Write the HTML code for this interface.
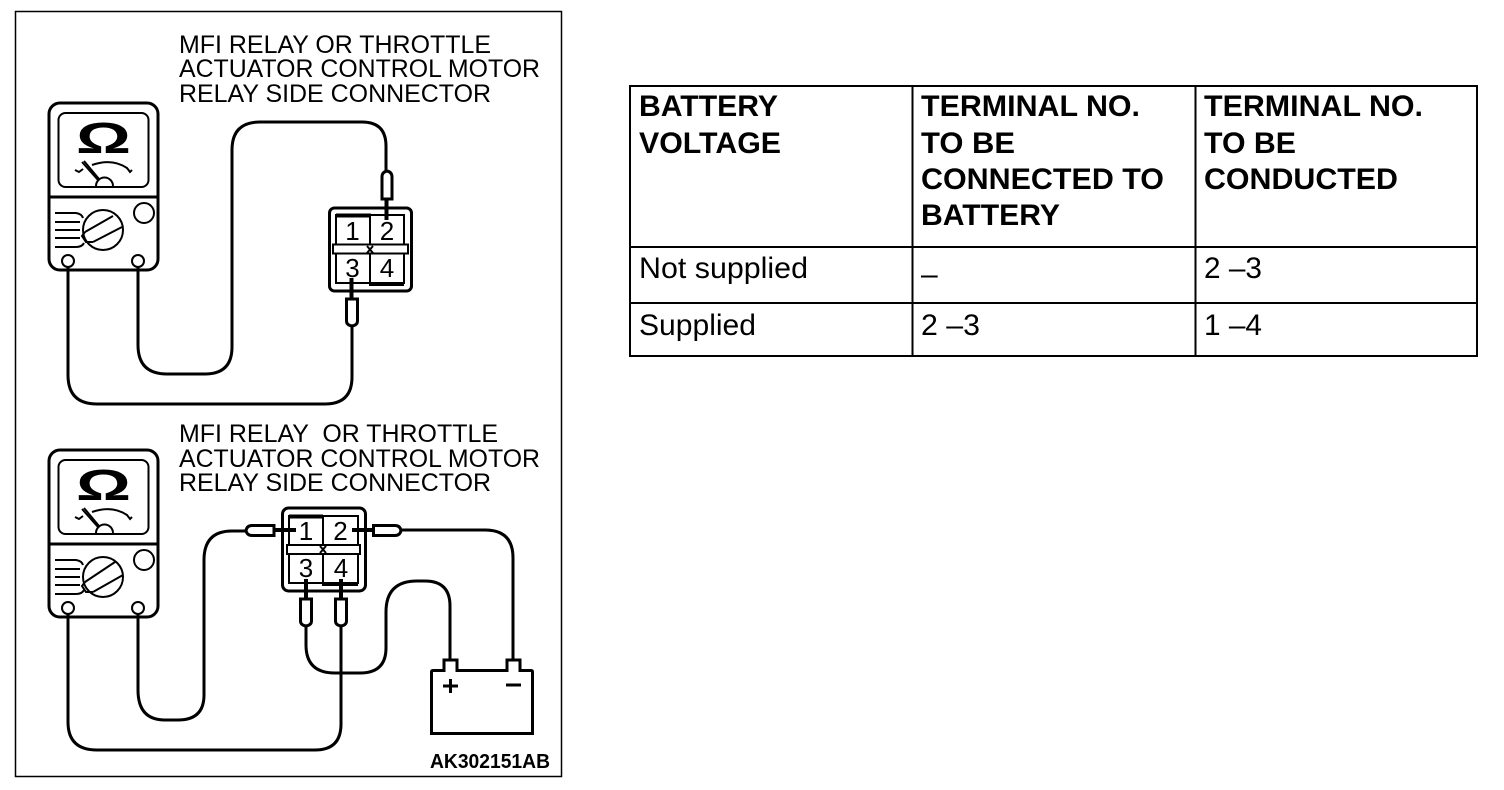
<!DOCTYPE html>
<html><head><meta charset="utf-8">
<style>html,body{margin:0;padding:0;background:#fff}svg{display:block}
text{font-family:"Liberation Sans",sans-serif;fill:#000;white-space:pre}
.l{font-size:25px}.h{font-size:30px;font-weight:bold}.c{font-size:30px}.n{font-size:26px}
.o{font-size:44px;font-weight:bold}
.w{fill:none;stroke:#000;stroke-width:3}.t{fill:none;stroke:#000;stroke-width:2}.k{fill:none;stroke:#000;stroke-width:5}
.p{fill:#fff;stroke:#000;stroke-width:3}
</style></head><body>
<svg width="1504" height="790" viewBox="0 0 1504 790" xmlns="http://www.w3.org/2000/svg">
<rect x="15.5" y="11.5" width="546" height="765" fill="none" stroke="#000" stroke-width="1.5"/>

<text class="l" x="179" y="53" textLength="312" lengthAdjust="spacingAndGlyphs">MFI RELAY OR THROTTLE</text>
<text class="l" x="179" y="77" textLength="361" lengthAdjust="spacingAndGlyphs">ACTUATOR CONTROL MOTOR</text>
<text class="l" x="179" y="102" textLength="312" lengthAdjust="spacingAndGlyphs">RELAY SIDE CONNECTOR</text>
<text class="l" x="179" y="442" textLength="319" lengthAdjust="spacingAndGlyphs">MFI RELAY  OR THROTTLE</text>
<text class="l" x="179" y="467" textLength="361" lengthAdjust="spacingAndGlyphs">ACTUATOR CONTROL MOTOR</text>
<text class="l" x="179" y="491" textLength="312" lengthAdjust="spacingAndGlyphs">RELAY SIDE CONNECTOR</text>

<!-- meter 1 -->
<g>
<rect x="49" y="103" width="109" height="167" rx="11" class="w"/>
<rect x="58.500" y="113" width="90" height="74" rx="7" class="t"/>
<path d="M49 197H158" class="w"/>
<text class="o" x="76" y="153" textLength="55" lengthAdjust="spacingAndGlyphs">Ω</text>
<path d="M75 170l4 2 4-3M92 165Q112 158 127 168l3 4 2-2M82 162L98 180" class="t"/>
<path d="M84 161L99 179" class="t"/>
<path d="M96 186a8.500 8.500 0 0 1 17 0" class="t"/>
<circle cx="103" cy="230" r="20" class="t"/><circle cx="144" cy="213" r="10" class="t"/>
<path d="M85 232L113 216M93 242L122 227M85 232l-3 4 4 6 7 0" class="t"/>
<path d="M55 213H76Q82 214 83 218M55 222H80M55 230H80M55 238H80M55 247H76Q82 247 84 243" class="t"/>
<circle cx="68" cy="261" r="6" class="t"/><circle cx="138" cy="261" r="6" class="t"/>
</g>
<!-- meter 2 -->
<g transform="translate(0,347)">
<rect x="49" y="103" width="109" height="167" rx="11" class="w"/>
<rect x="58.500" y="113" width="90" height="74" rx="7" class="t"/>
<path d="M49 197H158" class="w"/>
<text class="o" x="76" y="153" textLength="55" lengthAdjust="spacingAndGlyphs">Ω</text>
<path d="M75 170l4 2 4-3M92 165Q112 158 127 168l3 4 2-2M82 162L98 180" class="t"/>
<path d="M84 161L99 179" class="t"/>
<path d="M96 186a8.500 8.500 0 0 1 17 0" class="t"/>
<circle cx="103" cy="230" r="20" class="t"/><circle cx="144" cy="213" r="10" class="t"/>
<path d="M85 235L115 215M93 245L123 228M85 235l-3 4 4 6 7 0" class="t"/>
<path d="M55 213H76Q82 214 83 218M55 222H80M55 230H80M55 238H80M55 247H76Q82 247 84 243" class="t"/>
<circle cx="68" cy="261" r="6" class="t"/><circle cx="138" cy="261" r="6" class="t"/>
</g>

<!-- wires 1 -->
<path class="w" d="M138 267V345Q138 374 167 374H205Q232 374 232 347V150Q232 122 260 122H362Q386 122 386 146V172"/>
<path class="w" d="M68 267V375Q68 404 97 404H325Q352 404 352 377V326"/>
<!-- connector 1 -->
<rect x="329.500" y="208" width="82" height="83" rx="5" class="w"/>
<rect x="336" y="215" width="68" height="68" class="t"/>
<path d="M336 215.500H371" stroke="#000" stroke-width="4"/>
<path d="M370 215V285H404" class="t"/>
<rect x="333" y="244.500" width="75" height="9" fill="#fff" stroke="#000" stroke-width="2"/>
<path d="M367 246l6 7M373 246l-6 7" class="t"/>
<text class="n" x="352.500" y="240" text-anchor="middle">1</text><text class="n" x="387" y="240" text-anchor="middle">2</text>
<text class="n" x="352.500" y="277" text-anchor="middle">3</text><text class="n" x="387" y="277" text-anchor="middle">4</text>
<path d="M386.500 200V220M351.500 278V298" stroke="#000" stroke-width="4"/>
<path class="p" d="M382 177Q382 172 387 171Q392 172 392 177V199H382Z"/>
<path class="p" d="M346.500 299H357.500V321Q357.500 325 352 326Q346.500 325 346.500 321Z"/>

<!-- wires 2 -->
<path class="w" d="M138 614V690Q138 720 165 720H178Q204 720 204 695V560Q204 531 232 531H247"/>
<path class="w" d="M400 530H485Q513 530 513 558V660"/>
<path class="w" d="M68 614V722Q68 750 97 750H315Q341 750 341 724V626"/>
<path class="w" d="M306 626V645Q306 673 335 673H360Q386 673 386 648V612Q386 581 417 581H425Q450 581 450 606V660"/>
<!-- connector 2 -->
<rect x="282.500" y="508" width="83" height="83" rx="6" class="w"/>
<rect x="289" y="516" width="69" height="67" class="t"/>
<path d="M289 516.500H323" stroke="#000" stroke-width="4"/>
<path d="M323 516V585H358" class="t"/>
<rect x="287" y="545" width="73" height="9" fill="#fff" stroke="#000" stroke-width="2"/>
<path d="M320 546l6 7M326 546l-6 7" class="t"/>
<text class="n" x="306" y="540" text-anchor="middle">1</text><text class="n" x="340.500" y="540" text-anchor="middle">2</text>
<text class="n" x="306" y="577" text-anchor="middle">3</text><text class="n" x="341" y="577" text-anchor="middle">4</text>
<path d="M275 530H296M352 530H373M306 579V599M341 579V599" stroke="#000" stroke-width="4"/>
<path class="p" d="M252 525.500H274V535.500H252Q247 535.500 246 530.500Q247 525.500 252 525.500Z"/>
<path class="p" d="M373.500 525.500H395Q400 525.500 401 530.500Q400 535.500 395 535.500H373.500Z"/>
<path class="p" d="M300.500 599H311.500V621Q311.500 625 306 626Q300.500 625 300.500 621Z"/>
<path class="p" d="M335.500 599H346.500V621Q346.500 625 341 626Q335.500 625 335.500 621Z"/>

<!-- battery -->
<path class="w" d="M431.500 672Q431.500 670.500 433 670.500H444V660H457V670.500H507V660H520V670.500H531Q532.500 670.500 532.500 672V733.500H431.500Z" fill="#fff"/>
<path d="M443 686H458M450.500 679V693M506 685H521" stroke="#000" stroke-width="3"/>
<text x="430" y="768" style="font-size:20px;font-weight:bold" textLength="120" lengthAdjust="spacingAndGlyphs">AK302151AB</text>

<!-- table -->
<g stroke="#000" stroke-width="2" fill="none">
<rect x="630" y="86" width="847" height="270"/>
<path d="M912.500 86V356M1195.500 86V356M630 247H1477M630 303H1477"/>
</g>
<text class="h" x="639" y="116" textLength="139" lengthAdjust="spacingAndGlyphs">BATTERY</text>
<text class="h" x="639" y="153" textLength="142" lengthAdjust="spacingAndGlyphs">VOLTAGE</text>
<text class="h" x="921" y="116" textLength="219" lengthAdjust="spacingAndGlyphs">TERMINAL NO.</text>
<text class="h" x="921" y="153" textLength="94" lengthAdjust="spacingAndGlyphs">TO BE</text>
<text class="h" x="921" y="189" textLength="243" lengthAdjust="spacingAndGlyphs">CONNECTED TO</text>
<text class="h" x="921" y="225" textLength="139" lengthAdjust="spacingAndGlyphs">BATTERY</text>
<text class="h" x="1204" y="116" textLength="219" lengthAdjust="spacingAndGlyphs">TERMINAL NO.</text>
<text class="h" x="1204" y="153" textLength="92" lengthAdjust="spacingAndGlyphs">TO BE</text>
<text class="h" x="1204" y="189" textLength="194" lengthAdjust="spacingAndGlyphs">CONDUCTED</text>
<text class="c" x="639" y="278" textLength="169" lengthAdjust="spacingAndGlyphs">Not supplied</text>
<text class="c" x="921" y="284">–</text>
<text class="c" x="1204" y="278" textLength="58" lengthAdjust="spacingAndGlyphs">2 –3</text>
<text class="c" x="639" y="335" textLength="117" lengthAdjust="spacingAndGlyphs">Supplied</text>
<text class="c" x="921" y="335" textLength="59" lengthAdjust="spacingAndGlyphs">2 –3</text>
<text class="c" x="1204" y="335" textLength="58" lengthAdjust="spacingAndGlyphs">1 –4</text>
</svg>
</body></html>
